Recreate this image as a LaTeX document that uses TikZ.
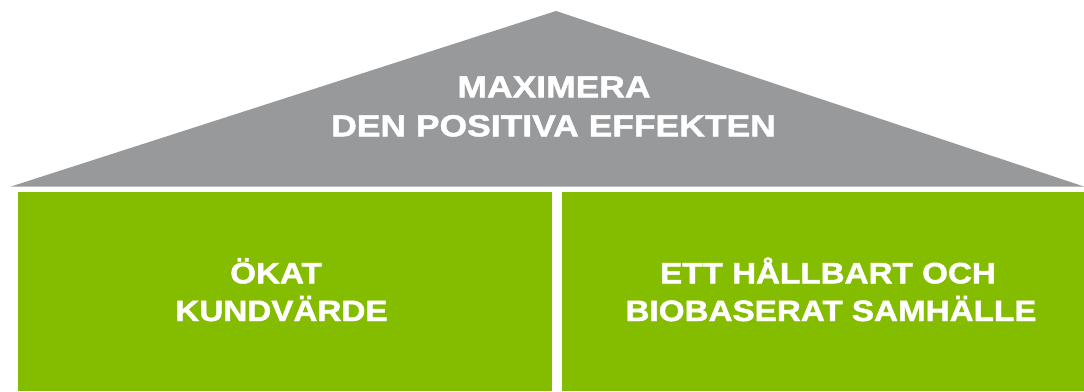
\documentclass[tikz,border=0pt]{standalone}
\usepackage{fontspec}
\newfontfamily\rooffont[FakeStretch=1.17,FakeBold=1.6]{Liberation Sans Bold}
\newfontfamily\boxfont[FakeStretch=1.13,FakeBold=1.6]{Liberation Sans Bold}
\definecolor{roofgray}{HTML}{98999B}
\definecolor{leafgreen}{HTML}{84BC00}
\begin{document}
\begin{tikzpicture}[x=1pt,y=1pt,
  rooftxt/.style={text=white,inner sep=0pt,anchor=base,font=\rooffont\fontsize{30.3}{39}\selectfont},
  boxtxt/.style={text=white,inner sep=0pt,anchor=base,font=\boxfont\fontsize{29.4}{37}\selectfont},
  pillar/.style={fill=leafgreen,draw=none}]
\useasboundingbox (0,0) rectangle (1084,-391);
\fill[white] (0,0) rectangle (1084,-391);
% roof
\fill[roofgray] (11,-186.5) -- (556,-11) -- (1084,-186.5) -- cycle;
% pillars
\fill[pillar] (18,-192) rectangle (552,-391);
\fill[pillar] (562,-192) rectangle (1084,-391);
% texts
\node[rooftxt] (r1) at (554,-97.3) {MAXIMERA};
\node[rooftxt] (r2) at (553.5,-136.3) {DEN POSITIVA EFFEKTEN};
\node[boxtxt] (l1) at (276,-283.3) {ÖKAT};
\node[boxtxt] (l2) at (281.5,-321) {KUNDVÄRDE};
\node[boxtxt] (g1) at (828,-283.3) {ETT HÅLLBART OCH};
\node[boxtxt] (g2) at (831,-321) {BIOBASERAT SAMHÄLLE};
\end{tikzpicture}
\end{document}
